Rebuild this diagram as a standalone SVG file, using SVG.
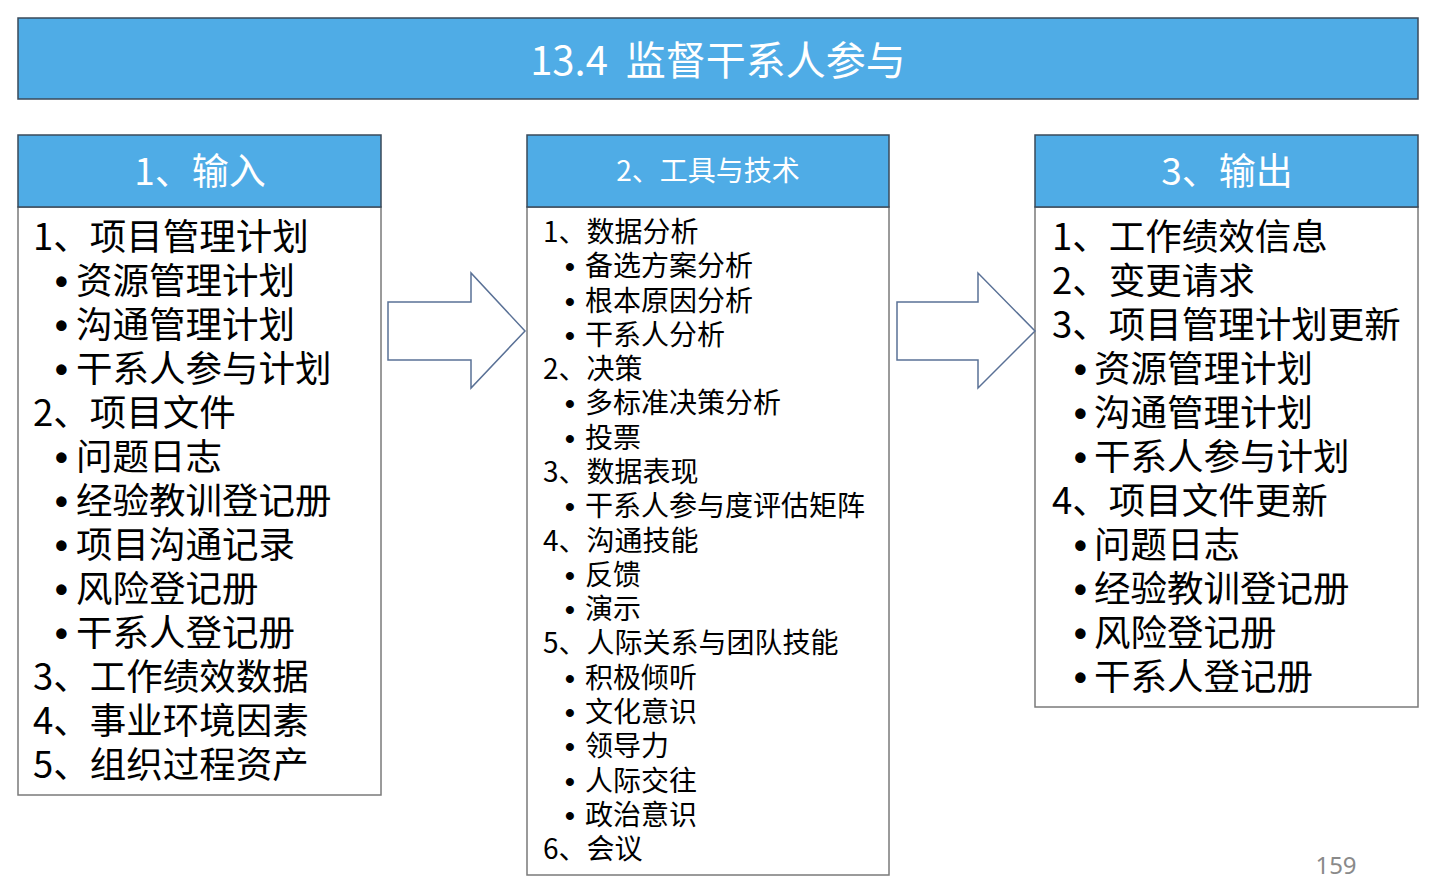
<svg xmlns="http://www.w3.org/2000/svg" width="1434" height="890" viewBox="0 0 1434 890">
<style>
.hdr{fill:#4FACE6;stroke:#3a4a5a;stroke-width:1.5}
.body{fill:#fff;stroke:#7a7a7a;stroke-width:1.5}
.ht{font-family:"Noto Sans CJK SC","Noto Sans",sans-serif;fill:#fff;text-anchor:middle}
.lt{font-family:"Noto Sans CJK SC","Noto Sans",sans-serif;fill:#000;font-size:36.5px}
.mt{font-family:"Noto Sans CJK SC","Noto Sans",sans-serif;fill:#000;font-size:28px}
.b{font-family:"Liberation Sans",sans-serif;font-weight:bold}
.arr{fill:#fff;stroke:#5a7196;stroke-width:1.5}
</style>
<rect width="1434" height="890" fill="#fff"/>
<g id="title">
<rect class="hdr" x="18" y="18" width="1400" height="81"/>
<text class="ht" x="718" y="75" font-size="40" xml:space="preserve">13.4  监督干系人参与</text>
</g>
<g id="inputs">
<rect class="body" x="18" y="207" width="363" height="588"/>
<rect class="hdr" x="18" y="135" width="363" height="72"/>
<text class="ht" x="200" y="185" font-size="37">1、输入</text>
<text class="lt">
<tspan x="33" y="250">1、项目管理计划</tspan>
<tspan class="b" x="55" y="294">•</tspan><tspan x="76" y="294">资源管理计划</tspan>
<tspan class="b" x="55" y="338">•</tspan><tspan x="76" y="338">沟通管理计划</tspan>
<tspan class="b" x="55" y="382">•</tspan><tspan x="76" y="382">干系人参与计划</tspan>
<tspan x="33" y="426">2、项目文件</tspan>
<tspan class="b" x="55" y="470">•</tspan><tspan x="76" y="470">问题日志</tspan>
<tspan class="b" x="55" y="514">•</tspan><tspan x="76" y="514">经验教训登记册</tspan>
<tspan class="b" x="55" y="558">•</tspan><tspan x="76" y="558">项目沟通记录</tspan>
<tspan class="b" x="55" y="602">•</tspan><tspan x="76" y="602">风险登记册</tspan>
<tspan class="b" x="55" y="646">•</tspan><tspan x="76" y="646">干系人登记册</tspan>
<tspan x="33" y="690">3、工作绩效数据</tspan>
<tspan x="33" y="734">4、事业环境因素</tspan>
<tspan x="33" y="778">5、组织过程资产</tspan>
</text>
</g>
<g id="tools">
<rect class="body" x="527" y="207" width="362" height="668"/>
<rect class="hdr" x="527" y="135" width="362" height="72"/>
<text class="ht" x="708" y="181" font-size="28">2、工具与技术</text>
<text class="mt">
<tspan x="543" y="242">1、数据分析</tspan>
<tspan class="b" x="565" y="276">•</tspan><tspan x="585" y="276">备选方案分析</tspan>
<tspan class="b" x="565" y="311">•</tspan><tspan x="585" y="311">根本原因分析</tspan>
<tspan class="b" x="565" y="345">•</tspan><tspan x="585" y="345">干系人分析</tspan>
<tspan x="543" y="379">2、决策</tspan>
<tspan class="b" x="565" y="413">•</tspan><tspan x="585" y="413">多标准决策分析</tspan>
<tspan class="b" x="565" y="448">•</tspan><tspan x="585" y="448">投票</tspan>
<tspan x="543" y="482">3、数据表现</tspan>
<tspan class="b" x="565" y="516">•</tspan><tspan x="585" y="516">干系人参与度评估矩阵</tspan>
<tspan x="543" y="551">4、沟通技能</tspan>
<tspan class="b" x="565" y="585">•</tspan><tspan x="585" y="585">反馈</tspan>
<tspan class="b" x="565" y="619">•</tspan><tspan x="585" y="619">演示</tspan>
<tspan x="543" y="653">5、人际关系与团队技能</tspan>
<tspan class="b" x="565" y="688">•</tspan><tspan x="585" y="688">积极倾听</tspan>
<tspan class="b" x="565" y="722">•</tspan><tspan x="585" y="722">文化意识</tspan>
<tspan class="b" x="565" y="756">•</tspan><tspan x="585" y="756">领导力</tspan>
<tspan class="b" x="565" y="791">•</tspan><tspan x="585" y="791">人际交往</tspan>
<tspan class="b" x="565" y="825">•</tspan><tspan x="585" y="825">政治意识</tspan>
<tspan x="543" y="859">6、会议</tspan>
</text>
</g>
<g id="outputs">
<rect class="body" x="1035" y="207" width="383" height="500"/>
<rect class="hdr" x="1035" y="135" width="383" height="72"/>
<text class="ht" x="1227" y="185" font-size="37">3、输出</text>
<text class="lt">
<tspan x="1052" y="250">1、工作绩效信息</tspan>
<tspan x="1052" y="294">2、变更请求</tspan>
<tspan x="1052" y="338">3、项目管理计划更新</tspan>
<tspan class="b" x="1074" y="382">•</tspan><tspan x="1094" y="382">资源管理计划</tspan>
<tspan class="b" x="1074" y="426">•</tspan><tspan x="1094" y="426">沟通管理计划</tspan>
<tspan class="b" x="1074" y="470">•</tspan><tspan x="1094" y="470">干系人参与计划</tspan>
<tspan x="1052" y="514">4、项目文件更新</tspan>
<tspan class="b" x="1074" y="558">•</tspan><tspan x="1094" y="558">问题日志</tspan>
<tspan class="b" x="1074" y="602">•</tspan><tspan x="1094" y="602">经验教训登记册</tspan>
<tspan class="b" x="1074" y="646">•</tspan><tspan x="1094" y="646">风险登记册</tspan>
<tspan class="b" x="1074" y="690">•</tspan><tspan x="1094" y="690">干系人登记册</tspan>
</text>
</g>
<g id="connectors">
<polygon class="arr" points="388,302 471,302 471,273 525,331 471,388 471,360 388,360"/>
<polygon class="arr" points="897,302 978,302 978,273 1035,331 978,388 978,360 897,360"/>
</g>
<text x="1336" y="874" font-family="Noto Sans, sans-serif" font-size="24" fill="#8a8a8a" text-anchor="middle">159</text>
</svg>
